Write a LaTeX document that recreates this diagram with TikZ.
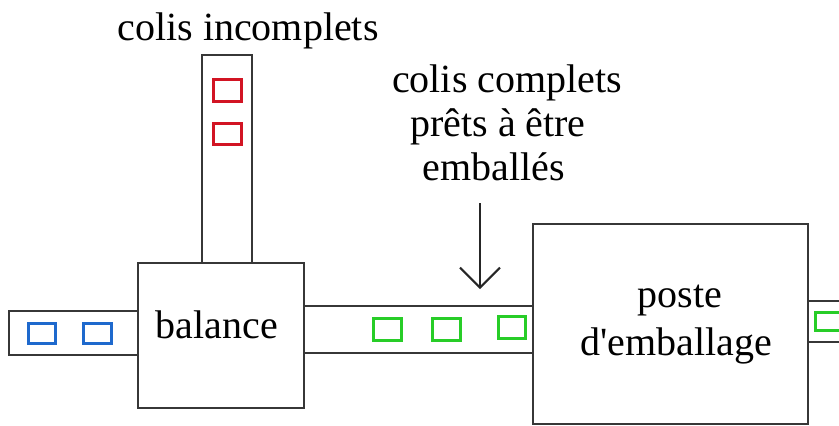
\documentclass[tikz,border=0pt]{standalone}
\usepackage{fontspec}
\setmainfont{Liberation Serif}[Ligatures=TeXOff]
\usetikzlibrary{arrows.meta}
\definecolor{belt}{RGB}{55,55,55}
\definecolor{pblue}{RGB}{30,105,205}
\definecolor{pred}{RGB}{210,20,35}
\definecolor{pgreen}{RGB}{40,205,40}
\tikzset{
  beltline/.style={draw=belt, line width=2pt},
  station/.style={draw=belt, line width=2pt, fill=white},
  parcel/.style={draw=#1, line width=3pt},
  lbl/.style={font=\fontsize{40}{44}\selectfont, inner sep=0pt, align=center}
}
\begin{document}
\begin{tikzpicture}[x=1pt, y=-1pt]
\useasboundingbox (0,0) rectangle (839,426);
% left belt
\draw[beltline] (138,311) -- (9,311) -- (9,355) -- (138,355);
% vertical belt
\draw[beltline] (202,263) -- (202,55) -- (252,55) -- (252,263);
% middle belt
\draw[beltline] (304,306) -- (532,306);
\draw[beltline] (304,353) -- (532,353);
% right belt
\draw[beltline] (808,301) -- (839,301);
\draw[beltline] (808,342) -- (839,342);
% stations
\draw[station] (138,263) rectangle (304,408);
\node[lbl, anchor=base] (bal) at (217,338) {balance};
\draw[station] (533,224) rectangle (808,424);
\node[lbl, anchor=base] (p1) at (680,307) {poste};
\node[lbl, anchor=base] (p2) at (676,355) {d\textquotesingle emballage};
% parcels
\draw[parcel=pblue] (28,323) rectangle (55,343);
\draw[parcel=pblue] (83,323) rectangle (111,343);
\draw[parcel=pred] (213,79) rectangle (241,101);
\draw[parcel=pred] (213,123) rectangle (241,144);
\draw[parcel=pgreen] (373,318) rectangle (401,340);
\draw[parcel=pgreen] (432,318) rectangle (460,340);
\draw[parcel=pgreen] (498,316) rectangle (525,338);
\draw[parcel=pgreen] (815,312) rectangle (845,330);
% labels
\node[lbl, anchor=base] (inc) at (248,40) {colis incomplets};
\node[lbl, anchor=base] (c1) at (507,92) {colis complets};
\node[lbl, anchor=base] (c2) at (498,136) {prêts à être};
\node[lbl, anchor=base] (c3) at (494,180) {emballés};
% arrow
\coordinate (aS) at (480,203);
\coordinate (aE) at (480,289);
\draw[line width=2pt, draw=black!85, -{Straight Barb[length=20pt, width=40pt, line width=2pt]}] (aS) -- (aE);
\end{tikzpicture}
\end{document}
